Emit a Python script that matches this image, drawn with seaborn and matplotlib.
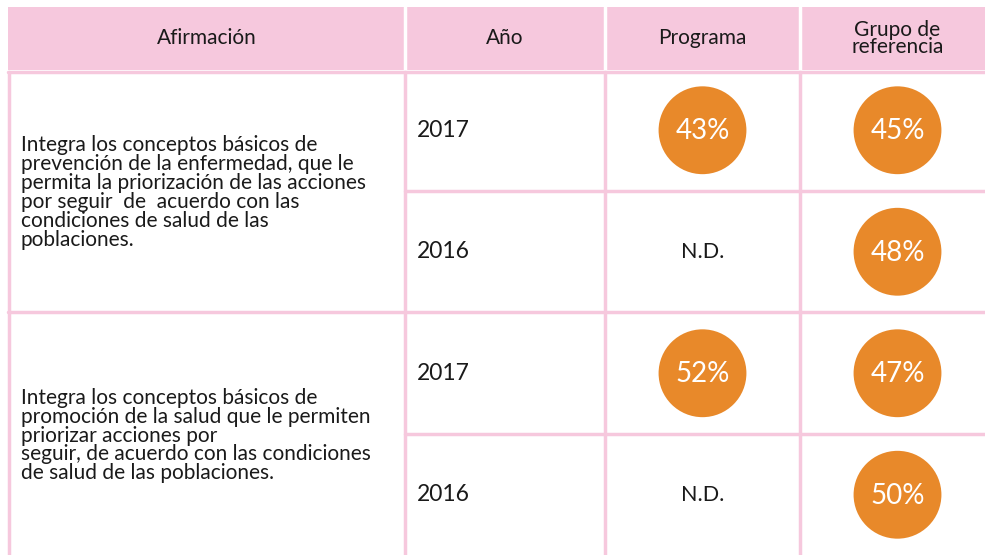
import seaborn as sns
import matplotlib.pyplot as plt
import pandas as pd

# table content
headers = ["Afirmación", "Año", "Programa", "Grupo de\nreferencia"]
statements = [
    "Integra los conceptos básicos de\nprevención de la enfermedad, que le\npermita la priorización de las acciones\npor seguir  de  acuerdo con las\ncondiciones de salud de las\npoblaciones.",
    "Integra los conceptos básicos de\npromoción de la salud que le permiten\npriorizar acciones por\nseguir, de acuerdo con las condiciones\nde salud de las poblaciones.",
]
years = ["2017", "2016", "2017", "2016"]
programa = [43, None, 52, None]
referencia = [45, 48, 47, 50]

pink = "#F6C8DD"
orange = "#E8892A"
ink = "#1a1a1a"

sns.set_theme(style="white")
plt.rcParams["font.family"] = ["Lato", "DejaVu Sans"]

fig = plt.figure(figsize=(9.85, 5.55), dpi=100)
ax = fig.add_axes([0, 0, 1, 1])

# column edges / centres (pixels); last column runs past the right edge
col_x = [9, 405, 605, 800, 995]
col_c = [(col_x[i] + col_x[i + 1]) / 2 for i in range(4)]
row_top = 71
row_h = 121.5
row_c = [row_top + row_h * (i + 0.5) - 1.5 for i in range(4)]

# header band
ax.add_patch(plt.Rectangle((8, 7), 990, 63, color=pink, lw=0, zorder=0))
for x in col_x[1:4]:
    ax.plot([x, x], [7, 70], color="white", lw=2.5, zorder=1)
for i, h in enumerate(headers):
    ax.text(col_c[i], 38.5, h, ha="center", va="center", fontsize=15,
            linespacing=0.85, color=ink)

# grid lines
for x in col_x[:4]:
    ax.plot([x, x], [72, 555], color=pink, lw=2.5, zorder=1)
ax.plot([8, 985], [72, 72], color=pink, lw=2.5, zorder=1)
ax.plot([8, 985], [312, 312], color=pink, lw=2.5, zorder=1)
for y in [191, 434]:
    ax.plot([405, 985], [y, y], color=pink, lw=2.5, zorder=1)

# statements
for i, s in enumerate(statements):
    y = row_top + row_h * (2 * i + 1)
    ax.text(21, y, s, ha="left", va="center", fontsize=15, linespacing=0.93,
            color=ink)

# years
for i, yr in enumerate(years):
    ax.text(417, row_c[i], yr, ha="left", va="center", fontsize=16.5,
            color=ink)

# circles
rows = []
for i in range(4):
    if programa[i] is not None:
        rows.append({"x": col_c[2], "y": row_c[i], "v": programa[i]})
    rows.append({"x": col_c[3], "y": row_c[i], "v": referencia[i]})
df = pd.DataFrame(rows)

sns.scatterplot(data=df, x="x", y="y", s=4000, color=orange, edgecolor="none",
                ax=ax, zorder=3, legend=False)
for _, r in df.iterrows():
    ax.text(r["x"], r["y"] + 1, f"{int(r['v'])}%", ha="center", va="center",
            fontsize=20, color="white", zorder=4)

for i in range(4):
    if programa[i] is None:
        ax.text(col_c[2], row_c[i], "N.D.", ha="center", va="center",
                fontsize=15.5, color=ink)

ax.set_xlim(0, 985)
ax.set_ylim(555, 0)
ax.axis("off")
fig.savefig("out.png", dpi=100)
